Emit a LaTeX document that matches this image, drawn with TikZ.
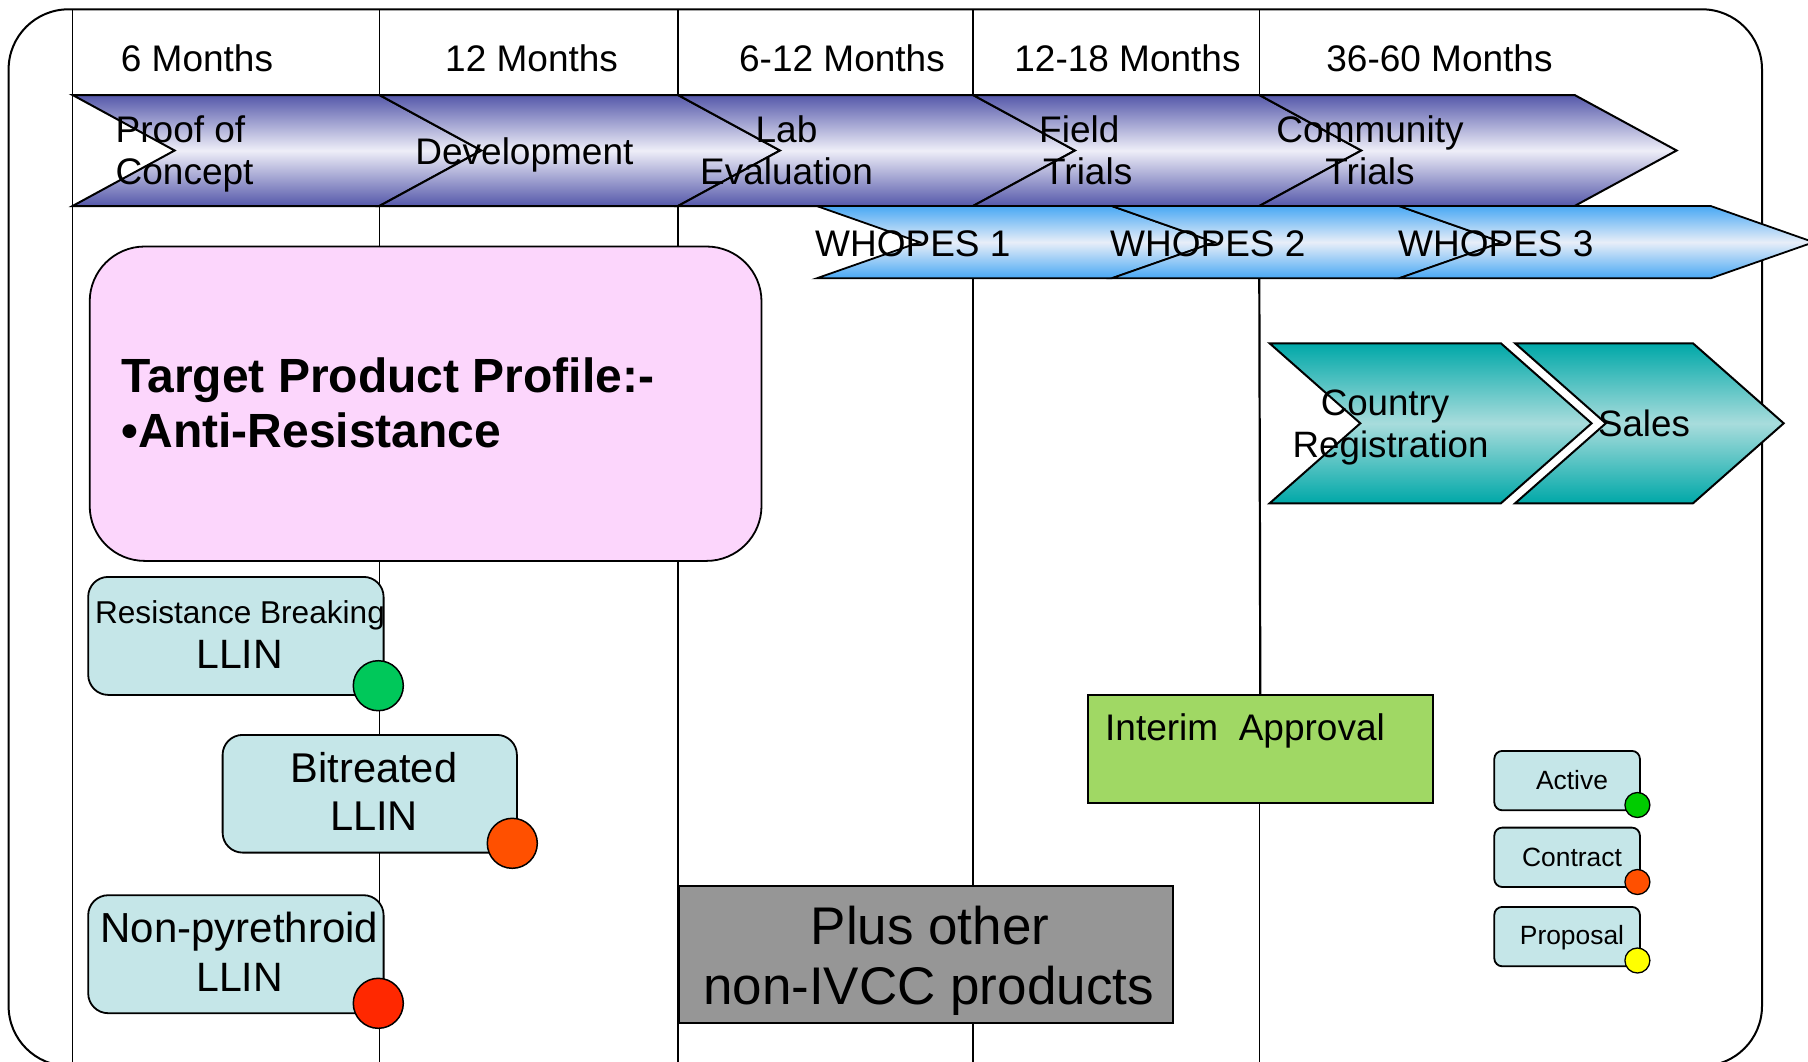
\documentclass[tikz,border=0pt]{standalone}
\usepackage{fontspec}
\setmainfont{Liberation Sans}
\newcommand\setfs[1]{\fontsize{#1}{#1}\selectfont}

\definecolor{phDark}{HTML}{5558AA}
\definecolor{phLight}{HTML}{EEEEF8}
\definecolor{whDark}{HTML}{48A8F4}
\definecolor{whLight}{HTML}{E8EEF8}
\definecolor{tlDark}{HTML}{00A8A8}
\definecolor{tlLight}{HTML}{A8DCDC}
\definecolor{tppPink}{HTML}{FCD6FC}
\definecolor{boxCyan}{HTML}{C5E6E8}
\definecolor{interimGreen}{HTML}{A0D864}
\definecolor{otherGray}{HTML}{969696}
\definecolor{dotGreen}{HTML}{00C85A}
\definecolor{dotOrange}{HTML}{FF5000}
\definecolor{dotRed}{HTML}{FF2800}
\definecolor{keyGreen}{HTML}{00CC00}
\definecolor{keyYellow}{HTML}{FFFF00}

\tikzset{
  frameline/.style={draw=black, line width=2pt, rounded corners=60pt},
  gridline/.style={draw=black, line width=1.4pt},
  phase/.style={draw=black, line width=2pt, line join=miter,
    top color=phDark, bottom color=phDark, middle color=phLight},
  whopes/.style={draw=black, line width=1.8pt, line join=miter,
    top color=whDark, bottom color=whDark, middle color=whLight},
  regchev/.style={draw=black, line width=2pt, line join=miter,
    top color=tlDark, bottom color=tlDark, middle color=tlLight},
  prodbox/.style={draw=black, line width=1.8pt, fill=boxCyan, rounded corners=20pt,
    anchor=north west, inner sep=0pt},
  legbox/.style={draw=black, line width=1.8pt, fill=boxCyan, rounded corners=8pt,
    anchor=north west, inner sep=0pt, minimum width=145.6pt, minimum height=59.4pt},
  flatbox/.style={draw=black, line width=2pt, anchor=north west, inner sep=0pt},
  dot/.style={circle, draw=black, line width=1.5pt, inner sep=0pt, minimum size=50pt},
  keydot/.style={circle, draw=black, line width=1.3pt, inner sep=0pt, minimum size=25pt},
  txt/.style={inner sep=0pt, anchor=base},
  txtw/.style={inner sep=0pt, anchor=base west},
}

\begin{document}
\begin{tikzpicture}[x=1pt,y=-1pt]
\useasboundingbox (0,0) rectangle (1808,1061);

% outer frame
\path[frameline] (8.6,9.3) rectangle (1762,1066);

% time columns
\foreach \gx in {72.6,379.4,678,973,1259.3}
  \draw[gridline] (\gx,9.3) -- (\gx,1066);

% column headings
\begin{scope}[every node/.append style={font=\setfs{37}}]
\node[txt] (h1) at (197,71.5) {6 Months};
\node[txt] (h2) at (531.6,71.5) {12 Months};
\node[txt] (h3) at (842,71.5) {6-12 Months};
\node[txt] (h4) at (1127.5,71.5) {12-18 Months};
\node[txt] (h5) at (1439.5,71.5) {36-60 Months};
\end{scope}

% development phases
\foreach \xl/\xr in {72.6/379.4, 379.4/678, 678/973, 973/1259.3, 1259.3/1574.6}
  \path[phase] (\xl,95) -- (\xr,95) -- (\xr+102,150.5) -- (\xr,206)
    -- (\xl,206) -- (\xl+102,150.5) -- cycle;

\begin{scope}[every node/.append style={font=\setfs{37}}]
\node[txtw] (p1a) at (115.5,142.5) {Proof of};
\node[txtw] (p1b) at (115.5,184) {Concept};
\node[txt] (p2) at (524.4,164) {Development};
\node[txt] (p3a) at (786.5,142.5) {Lab};
\node[txt] (p3b) at (786.5,184) {Evaluation};
\node[txtw] (p4a) at (1039,142.5) {Field};
\node[txtw] (p4b) at (1043,184) {Trials};
\node[txt] (p5a) at (1370,142.5) {Community};
\node[txt] (p5b) at (1370,184) {Trials};
\end{scope}

% WHOPES stages
\foreach \xl/\xr in {816.7/1111.7, 1111.7/1399, 1399/1710.7}
  \path[whopes] (\xl,206) -- (\xr,206) -- (\xr+103,242.2) -- (\xr,278.3)
    -- (\xl,278.3) -- (\xl+103,242.2) -- cycle;

\begin{scope}[every node/.append style={font=\setfs{37}}]
\node[txtw] (w1) at (815,256) {WHOPES 1};
\node[txtw] (w2) at (1110,256) {WHOPES 2};
\node[txtw] (w3) at (1398,256) {WHOPES 3};
\end{scope}

% registration and sales
\path[regchev] (1269.6,343.3) -- (1500.9,343.3) -- (1591.6,423.3) -- (1500.9,503.3)
  -- (1269.6,503.3) -- (1360.3,423.3) -- cycle;
\path[regchev] (1515.1,343.3) -- (1693,343.3) -- (1783.7,423.3) -- (1693,503.3)
  -- (1515.1,503.3) -- (1605.8,423.3) -- cycle;
\begin{scope}[every node/.append style={font=\setfs{36.7}}]
\node[txt] (cr1) at (1385,415) {Country};
\node[txt] (cr2) at (1390.6,457) {Registration};
\node[txt] (sales) at (1644,436) {Sales};
\end{scope}

% target product profile
\node[draw=black, line width=1.8pt, fill=tppPink, rounded corners=55pt, anchor=north west,
  inner sep=0pt, minimum width=671.8pt, minimum height=314.4pt] (tpp) at (88.8,245.6) {};
\node[txtw, font=\bfseries\setfs{48}] (tpp1) at (121.5,392) {Target Product Profile:-};
\node[txtw, font=\bfseries\setfs{48}] (tpp2) at (121.5,447) {•Anti-Resistance};

% products
\node[prodbox, minimum width=295.4pt, minimum height=118pt] (rb) at (87.3,576) {};
\node[txt, font=\setfs{31.6}] (rb1) at (240,623) {Resistance Breaking};
\node[txt, font=\setfs{41}] (rb2) at (239.7,668.3) {LLIN};
\node[dot, fill=dotGreen] (rbdot) at (378.3,685.7) {};

\node[prodbox, minimum width=294.3pt, minimum height=117.7pt] (bt) at (221.7,734) {};
\node[txt, font=\setfs{41.6}] (bt1) at (374,782.7) {Bitreated};
\node[txt, font=\setfs{41.6}] (bt2) at (374,830.7) {LLIN};
\node[dot, fill=dotOrange] (btdot) at (512.3,843.3) {};

\node[prodbox, minimum width=295.4pt, minimum height=118pt] (np) at (87.3,894.3) {};
\node[txt, font=\setfs{42}] (np1) at (239.5,942.7) {Non-pyrethroid};
\node[txt, font=\setfs{41}] (np2) at (239.7,991.7) {LLIN};
\node[dot, fill=dotRed] (npdot) at (378.3,1003.3) {};

% interim approval, linked up to the WHOPES row
\node[flatbox, fill=interimGreen, minimum width=345.4pt, minimum height=107.7pt] (ia) at (1086.6,694) {};
\coordinate (wb) at (1259.3,278.3);
\draw[line width=2.2pt] (wb) -- (ia.north);
\node[txtw, font=\setfs{37}] (ia1) at (1105,740) {Interim\ \ Approval};

% other products
\node[flatbox, fill=otherGray, minimum width=493.7pt, minimum height=137.5pt] (op) at (678,884.5) {};
\node[txt, font=\setfs{53}] (op1) at (930,944) {Plus other};
\node[txt, font=\setfs{53}] (op2) at (928.5,1004) {non-IVCC products};

% key
\node[legbox] (kA) at (1493.4,750) {};
\node[txt, font=\setfs{26.4}] (kA1) at (1572,789.5) {Active};
\node[keydot, fill=keyGreen] (kAdot) at (1637.4,805) {};
\node[legbox] (kC) at (1493.4,826.7) {};
\node[txt, font=\setfs{26.4}] (kC1) at (1572,866) {Contract};
\node[keydot, fill=dotOrange] (kCdot) at (1637.4,882) {};
\node[legbox] (kP) at (1493.4,906) {};
\node[txt, font=\setfs{26.4}] (kP1) at (1572,944.5) {Proposal};
\node[keydot, fill=keyYellow] (kPdot) at (1637.4,960.5) {};
\end{tikzpicture}
\end{document}
